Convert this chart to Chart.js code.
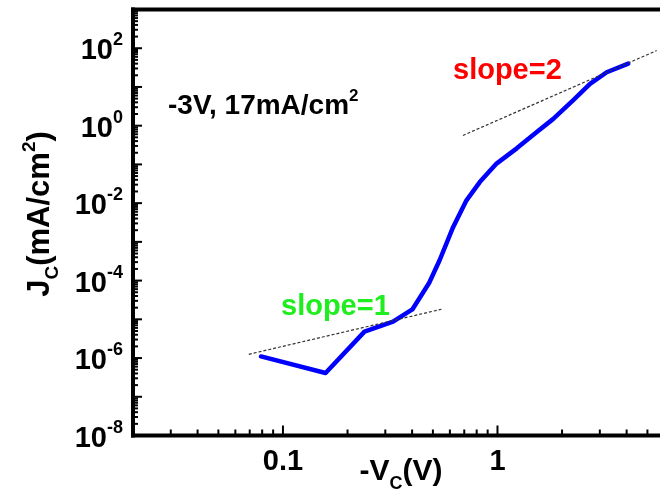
<!DOCTYPE html>
<html>
<head>
<meta charset="utf-8">
<script src="https://cdn.jsdelivr.net/npm/chart.js@4.4.1/dist/chart.umd.min.js"></script>
<style>
  html, body { margin: 0; padding: 0; background: #fff; overflow: hidden; width: 660px; height: 497px; }
  #wrap { width: 720px; height: 497px; }
</style>
</head>
<body>
<div id="wrap"><canvas id="jvChart" width="720" height="497"></canvas></div>
<script>
// measured curve: -Vc (V) vs Jc (mA/cm2)
const vc = [0.079, 0.158, 0.240, 0.326, 0.401, 0.48, 0.538, 0.621, 0.717, 0.827, 0.99, 1.23, 1.52, 1.82, 2.25, 2.70, 3.23, 4.07];
const jc = [1.1e-6, 4.1e-7, 4.8e-6, 8.7e-6, 1.8e-5, 8.7e-5, 3.4e-4, 2.4e-3, 0.0118, 0.035, 0.105, 0.26, 0.68, 1.5, 4.5, 12, 24, 40];

// guide lines
const slope1X = [0.0693, 0.548];
const slope1Y = [1.25e-6, 1.82e-5];
const slope2X = [0.69, 5.52];
const slope2Y = [0.56, 87];

// axis labels
const xTickVals = [0.1, 1];
const xTickText = ['0.1', '1'];
const yTickExps = [-8, -6, -4, -2, 0, 2];

const FONT = '"Liberation Sans", Arial, sans-serif';

// draw text made of runs: [text, size, dy]
function runs(ctx, parts, x, y, align) {
  let w = 0;
  parts.forEach(p => { ctx.font = 'bold ' + p[1] + 'px ' + FONT; w += ctx.measureText(p[0]).width; });
  let cx = align === 'right' ? x - w : align === 'center' ? x - w / 2 : x;
  parts.forEach(p => {
    ctx.font = 'bold ' + p[1] + 'px ' + FONT;
    ctx.fillText(p[0], cx, y + (p[2] || 0));
    cx += ctx.measureText(p[0]).width;
  });
}

function seg(ctx, x1, y1, x2, y2) {
  ctx.beginPath(); ctx.moveTo(x1, y1); ctx.lineTo(x2, y2); ctx.stroke();
}

// frame with inward ticks, tick labels and titles
const framePlugin = {
  id: 'frame',
  afterDraw(chart) {
    const ctx = chart.ctx, a = chart.chartArea;
    const xs = chart.scales.x, ys = chart.scales.y;
    ctx.save();
    ctx.strokeStyle = '#000';
    ctx.fillStyle = '#000';
    ctx.textAlign = 'left';
    ctx.textBaseline = 'alphabetic';

    // y ticks
    ctx.lineWidth = 2;
    for (let e = -8; e <= 2; e++) {
      for (let m = 1; m <= 9; m++) {
        const py = ys.getPixelForValue(m * Math.pow(10, e));
        seg(ctx, a.left, py, a.left + (m === 1 ? 9 : 5), py);
      }
    }
    // x ticks
    for (let e = -2; e <= 0; e++) {
      for (let m = 1; m <= 9; m++) {
        const v = m * Math.pow(10, e);
        if (v < 0.02) continue;
        const px = xs.getPixelForValue(v);
        seg(ctx, px, a.bottom, px, a.bottom - (m === 1 ? 10 : 6));
      }
    }

    // axis lines
    ctx.lineWidth = 4;
    seg(ctx, a.left, a.top - 2, a.left, a.bottom + 2);
    seg(ctx, a.left - 2, a.bottom, a.right, a.bottom);
    seg(ctx, a.left - 2, a.top, a.right, a.top);

    // y tick labels
    yTickExps.forEach(e => {
      const py = ys.getPixelForValue(Math.pow(10, e));
      runs(ctx, [['10', 29, 0], [String(e), 18, -14]], 123, py + 11, 'right');
    });
    // x tick labels
    xTickVals.forEach((v, i) => {
      runs(ctx, [[xTickText[i], 29, 0]], xs.getPixelForValue(v), 470, 'center');
    });

    // axis titles
    runs(ctx, [['-V', 30, 0], ['C', 18, 9], ['(V)', 30, 0]], 401, 480, 'center');
    ctx.save();
    ctx.translate(49, 214);
    ctx.rotate(-Math.PI / 2);
    runs(ctx, [['J', 31, 0], ['C', 19, 9], ['(mA/cm', 31, 0], ['2', 19, -14], [')', 31, 0]], 0, 0, 'center');
    ctx.restore();

    // annotations
    runs(ctx, [['-3V, 17mA/cm', 28, 0], ['2', 17, -13]], 168, 114, 'left');
    ctx.fillStyle = '#ff0000';
    runs(ctx, [['slope=2', 29, 0]], 453, 79, 'left');
    ctx.fillStyle = '#1eee1e';
    runs(ctx, [['slope=1', 29, 0]], 281, 315, 'left');
    ctx.restore();
  }
};

const pts = (xs, ys) => xs.map((x, i) => ({ x: x, y: ys[i] }));

new Chart(document.getElementById('jvChart'), {
  type: 'line',
  data: {
    datasets: [
      { data: pts(slope1X, slope1Y), borderColor: '#333', borderWidth: 1.2, borderDash: [3, 2], pointRadius: 0, fill: false },
      { data: pts(slope2X, slope2Y), borderColor: '#333', borderWidth: 1.2, borderDash: [3, 2], pointRadius: 0, fill: false },
      { data: pts(vc, jc), borderColor: '#0000ff', borderWidth: 4.5, pointRadius: 0, fill: false, tension: 0, borderJoinStyle: 'round', borderCapStyle: 'round' }
    ]
  },
  options: {
    responsive: false,
    animation: false,
    events: [],
    layout: { padding: { left: 133, top: 9.5, right: 8, bottom: 61.5 } },
    plugins: { legend: { display: false }, tooltip: { enabled: false } },
    scales: {
      x: { type: 'logarithmic', min: 0.02, max: 10, display: false },
      y: { type: 'logarithmic', min: 1e-8, max: 1e3, display: false }
    }
  },
  plugins: [framePlugin]
});
</script>
</body>
</html>
